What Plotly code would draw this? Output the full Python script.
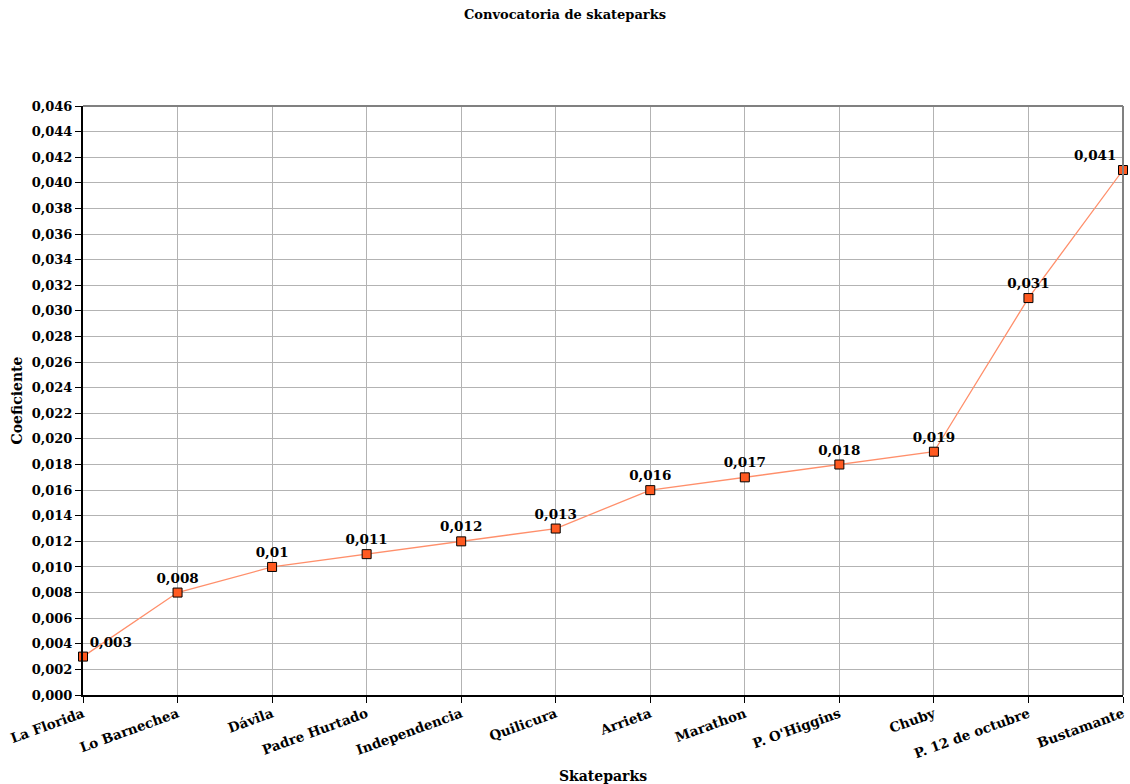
import plotly.graph_objects as go

categories = ["La Florida", "Lo Barnechea", "Dávila", "Padre Hurtado", "Independencia",
              "Quilicura", "Arrieta", "Marathon", "P. O'Higgins", "Chuby",
              "P. 12 de octubre", "Bustamante"]
values = [0.003, 0.008, 0.010, 0.011, 0.012, 0.013, 0.016, 0.017, 0.018, 0.019, 0.031, 0.041]
labels = ["0,003", "0,008", "0,01", "0,011", "0,012", "0,013", "0,016", "0,017", "0,018", "0,019", "0,031", "0,041"]

FONT = "DejaVu Serif"
positions = ["top right"] + ["top center"] * (len(values) - 2) + ["top left"]

fig = go.Figure()
fig.add_trace(go.Scatter(
    x=list(range(len(categories))), y=values, mode="lines+markers+text",
    text=labels, textposition=positions,
    textfont=dict(family=FONT, size=13.5, color="#000000", weight="bold"),
    line=dict(color="#ff8f6b", width=1.3),
    marker=dict(symbol="square", size=9, color="#ff5a21", line=dict(color="#000000", width=1)),
    cliponaxis=False, showlegend=False,
))

fig.update_layout(
    width=1130, height=784,
    margin=dict(l=83, r=7, t=106, b=89),
    paper_bgcolor="white", plot_bgcolor="white",
    separators=",.",
    font=dict(family=FONT, size=13.5, color="#000000"),
    title=dict(text="<b>Convocatoria de skateparks</b>", x=0.5, xanchor="center",
               y=0.982, yanchor="middle", font=dict(family=FONT, size=13)),
    xaxis=dict(
        range=[0, len(categories) - 1], automargin=False,
        tickmode="array", tickvals=list(range(len(categories))),
        ticktext=categories,
        tickangle=-20, ticks="outside", ticklen=6, tickcolor="#000000",
        ticklabelstandoff=-2,
        tickfont=dict(family=FONT, size=13.5, weight="bold"),
        showgrid=True, gridcolor="#b3b3b3", gridwidth=1,
        showline=True, linecolor="#000000", linewidth=2, mirror=False,
        zeroline=False,
        title=dict(text="<b>Skateparks</b>", font=dict(family=FONT, size=14), standoff=28),
    ),
    yaxis=dict(
        range=[0, 0.046], dtick=0.002, tick0=0, tickformat=".3f", automargin=False,
        ticks="outside", ticklen=6, tickcolor="#000000",
        showgrid=True, gridcolor="#b3b3b3", gridwidth=1,
        showline=True, linecolor="#000000", linewidth=2,
        zeroline=False,
        tickfont=dict(family=FONT, size=13, weight="bold"),
        title=dict(text="<b>Coeficiente</b>", font=dict(family=FONT, size=14), standoff=6),
    ),
)

# gray top/right frame
fig.add_shape(type="line", xref="paper", yref="paper", x0=0, x1=1, y0=1, y1=1,
              line=dict(color="#808080", width=2))
fig.add_shape(type="line", xref="paper", yref="paper", x0=1, x1=1, y0=0, y1=1,
              line=dict(color="#808080", width=2))

fig.write_html("out.html")
